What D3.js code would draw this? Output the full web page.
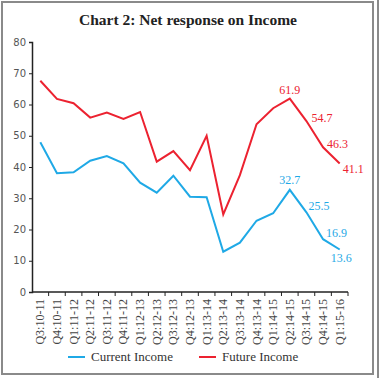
<!DOCTYPE html>
<html>
<head>
<meta charset="utf-8">
<script src="https://cdn.jsdelivr.net/npm/d3@7"></script>
<style>
  body { margin: 0; background: #fff; }
  svg { display: block; }
</style>
</head>
<body>
<svg width="379" height="378"></svg>
<script>
// data
const quarters = ['Q3:10-11','Q4:10-11','Q1:11-12','Q2:11-12','Q3:11-12','Q4:11-12',
  'Q1:12-13','Q2:12-13','Q3:12-13','Q4:12-13','Q1:13-14','Q2:13-14','Q3:13-14',
  'Q4:13-14','Q1:14-15','Q2:14-15','Q3:14-15','Q4:14-15','Q1:15-16'];
const currentIncome = [47.9, 38.0, 38.3, 42.0, 43.5, 41.2, 35.0, 31.8, 37.2, 30.5,
  30.3, 12.9, 15.8, 22.8, 25.2, 32.7, 25.5, 16.9, 13.6];
const futureIncome = [67.6, 61.8, 60.4, 55.8, 57.4, 55.4, 57.6, 41.7, 45.1, 39.0,
  50.0, 24.8, 37.4, 53.7, 58.8, 61.9, 54.7, 46.3, 41.1];
const yTicks = [0, 10, 20, 30, 40, 50, 60, 70, 80];
const labelledFrom = 15;   // last four points carry value labels

const svg = d3.select('svg');
const width = +svg.attr('width');
const height = +svg.attr('height');
const blue = '#1fa9e6', red = '#ec2230';

// outer frame (and the edge of the neighbouring panel)
svg.append('rect').attr('x', 2).attr('y', 2).attr('width', 371).attr('height', 372)
  .attr('fill', 'none').attr('stroke', '#8a8a8a').attr('stroke-width', 2);
svg.append('line').attr('x1', 378).attr('x2', 378).attr('y1', 0).attr('y2', height)
  .attr('stroke', '#8a8a8a').attr('stroke-width', 2);

svg.append('text')
  .attr('x', 188).attr('y', 25)
  .attr('text-anchor', 'middle')
  .style('font-family', '"Liberation Serif", serif')
  .style('font-weight', 'bold').style('font-size', '15.5px').style('fill', '#222')
  .text('Chart 2: Net response on Income');

const margin = { top: 42, left: 32, right: 31, bottom: 86 };
const innerWidth = width - margin.left - margin.right;
const innerHeight = height - margin.top - margin.bottom;

const g = svg.append('g').attr('transform', `translate(${margin.left},${margin.top})`);

const xScale = d3.scaleBand().domain(quarters).range([0, innerWidth]);
const yScale = d3.scaleLinear().domain([0, 80]).range([innerHeight, 0]);
const xPos = i => xScale(quarters[i]) + xScale.bandwidth() / 2;

// y axis
const yAxisG = g.append('g')
  .call(d3.axisLeft(yScale).tickValues(yTicks).tickSize(3).tickPadding(3));
yAxisG.select('.domain').attr('stroke', '#222').attr('stroke-width', 1.5);
yAxisG.selectAll('.tick line').attr('stroke', '#222');
yAxisG.selectAll('text')
  .style('font-family', '"DejaVu Sans", sans-serif').style('font-size', '10px').style('fill', '#555');

// x axis: ticks at band edges, labels rotated
const xAxisG = g.append('g').attr('transform', `translate(0,${innerHeight})`);
xAxisG.append('line').attr('x1', 0).attr('x2', innerWidth)
  .attr('stroke', '#222').attr('stroke-width', 1.5);
xAxisG.selectAll('.edge').data(quarters).enter().append('line')
  .attr('x1', d => xScale(d) + xScale.bandwidth()).attr('x2', d => xScale(d) + xScale.bandwidth())
  .attr('y1', 0).attr('y2', 4).attr('stroke', '#222');
xAxisG.selectAll('.lbl').data(quarters).enter().append('text')
  .attr('transform', d => `translate(${xScale(d) + xScale.bandwidth() / 2 + 4},7) rotate(-90)`)
  .attr('text-anchor', 'end')
  .style('font-family', '"Liberation Serif", serif').style('font-size', '12px').style('fill', '#444')
  .text(d => d);

const line = d3.line().x((d, i) => xPos(i)).y(d => yScale(d));

[[currentIncome, blue], [futureIncome, red]].forEach(([values, colour]) => {
  g.append('path').attr('d', line(values))
    .attr('fill', 'none').attr('stroke', colour).attr('stroke-width', 2);
});

// value labels: offsets per point [dx, dy, anchor]
const redOffsets = [[0, -5, 'middle'], [5, 1, 'start'], [4, 1, 'start'], [3, 9, 'start']];
const blueOffsets = [[0, -6, 'middle'], [2, -2, 'start'], [3, -2, 'start'], [-9, 12, 'start']];

const addLabels = (values, offsets, colour) => {
  offsets.forEach(([dx, dy, anchor], k) => {
    const i = labelledFrom + k;
    g.append('text')
      .attr('x', xPos(i) + dx).attr('y', yScale(values[i]) + dy)
      .attr('text-anchor', anchor)
      .style('font-family', '"Liberation Serif", serif').style('font-size', '12px').style('fill', colour)
      .text(values[i].toFixed(1));
  });
};
addLabels(futureIncome, redOffsets, red);
addLabels(currentIncome, blueOffsets, blue);

// legend
const legend = svg.append('g').attr('transform', 'translate(68,357)');
[['Current Income', blue, 0], ['Future Income', red, 131]].forEach(([name, colour, x]) => {
  legend.append('line').attr('x1', x).attr('x2', x + 17).attr('y1', 0).attr('y2', 0)
    .attr('stroke', colour).attr('stroke-width', 2);
  legend.append('text').attr('x', x + 23).attr('y', 4)
    .style('font-family', '"Liberation Serif", serif').style('font-size', '13px').style('fill', '#333')
    .text(name);
});
</script>
</body>
</html>
